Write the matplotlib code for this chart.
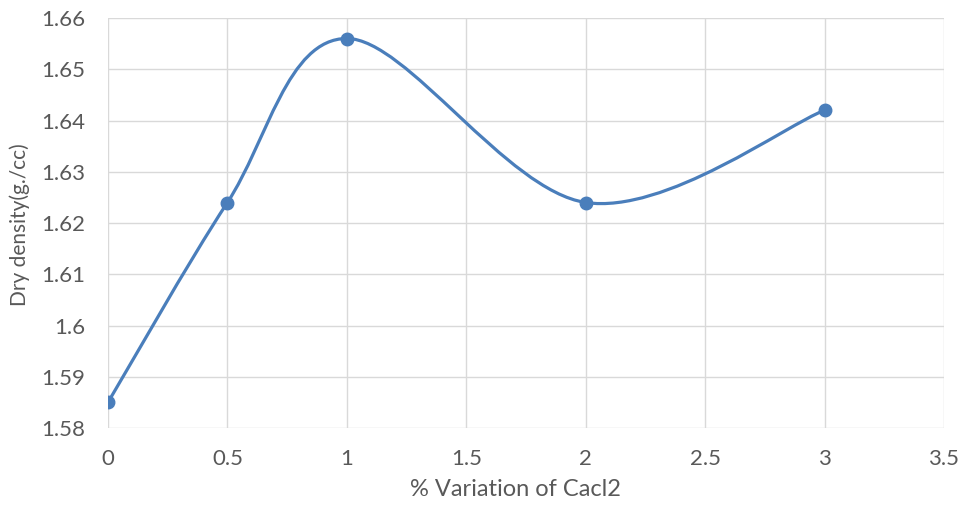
import matplotlib.pyplot as plt
from matplotlib.path import Path
from matplotlib.patches import PathPatch
import numpy as np

plt.rcParams['font.family'] = ['Lato', 'DejaVu Sans']

cacl2_pct = [0, 0.5, 1, 2, 3]
dry_density = [1.585, 1.624, 1.656, 1.624, 1.642]
x_ticks = [0, 0.5, 1, 1.5, 2, 2.5, 3, 3.5]
x_tick_labels = ['0', '0.5', '1', '1.5', '2', '2.5', '3', '3.5']
y_ticks = [1.58, 1.59, 1.6, 1.61, 1.62, 1.63, 1.64, 1.65, 1.66]
y_tick_labels = ['1.58', '1.59', '1.6', '1.61', '1.62', '1.63', '1.64', '1.65', '1.66']

line_color = '#4a7ebb'
grid_color = '#d9d9d9'
text_color = '#595959'


def smooth_path(xs, ys):
    # excel style smoothed line: cubic bezier through the points
    pts = np.column_stack([xs, ys]).astype(float)
    n = len(pts)
    verts = [pts[0]]
    codes = [Path.MOVETO]
    for i in range(n - 1):
        p0 = pts[i - 1] if i > 0 else pts[i]
        p1 = pts[i]
        p2 = pts[i + 1]
        p3 = pts[i + 2] if i + 2 < n else pts[i + 1]
        c1 = p1 + (p2 - p0) / 6.0
        c2 = p2 - (p3 - p1) / 6.0
        verts += [c1, c2, p2]
        codes += [Path.CURVE4] * 3
    return Path(verts, codes)


fig = plt.figure(figsize=(9.64, 5.15), dpi=100)
ax = fig.add_axes([108 / 964, 87 / 515, 836 / 964, 410 / 515])

ax.add_patch(PathPatch(smooth_path(cacl2_pct, dry_density), facecolor='none',
                       edgecolor=line_color, lw=2.3, zorder=3))
ax.plot(cacl2_pct, dry_density, 'o', color=line_color, ms=9, zorder=4)

ax.set_xlim(0, 3.5)
ax.set_ylim(1.58, 1.66)
ax.set_xticks(x_ticks)
ax.set_xticklabels(x_tick_labels)
ax.set_yticks(y_ticks)
ax.set_yticklabels(y_tick_labels)
ax.grid(True, color=grid_color, lw=1.0)
ax.set_axisbelow(True)
for s in ax.spines.values():
    s.set_visible(False)
ax.tick_params(length=0, labelsize=16, colors=text_color)
ax.tick_params(axis='x', pad=15)
ax.tick_params(axis='y', pad=16.5)

fig.text(515 / 964, 25 / 515, '% Variation of Cacl2', fontsize=17,
         color=text_color, ha='center', va='center')
fig.text(20 / 964, 1 - 225 / 515, 'Dry density(g./cc)', fontsize=15,
         color=text_color, ha='center', va='center', rotation=90)

fig.savefig('out.png', dpi=100)
